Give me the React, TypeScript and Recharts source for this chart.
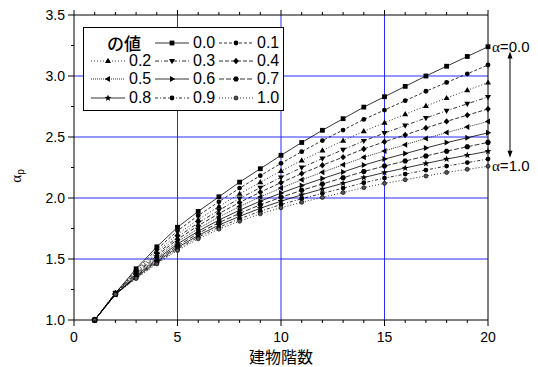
import {
  LineChart,
  Line,
  XAxis,
  YAxis,
  ReferenceLine,
  ReferenceDot,
  Legend,
} from 'recharts'

// building storeys
const floors = [1, 2, 3, 4, 5, 6, 7, 8, 9, 10, 11, 12, 13, 14, 15, 16, 17, 18, 19, 20]
const alphas = ['0.0', '0.1', '0.2', '0.3', '0.4', '0.5', '0.6', '0.7', '0.8', '0.9', '1.0']

// alpha_p, one list per alpha
const a00 = [1.0, 1.22, 1.42, 1.6, 1.76, 1.89, 2.01, 2.13, 2.24, 2.35, 2.455, 2.555, 2.65, 2.745, 2.83, 2.915, 3.0, 3.08, 3.16, 3.24]
const a01 = [1.0, 1.22, 1.408, 1.579, 1.731, 1.856, 1.969, 2.081, 2.183, 2.284, 2.38, 2.471, 2.557, 2.644, 2.721, 2.798, 2.875, 2.947, 3.018, 3.09]
const a02 = [1.0, 1.22, 1.396, 1.558, 1.703, 1.823, 1.93, 2.034, 2.129, 2.221, 2.308, 2.39, 2.469, 2.547, 2.617, 2.686, 2.754, 2.819, 2.883, 2.946]
const a03 = [1.0, 1.22, 1.386, 1.541, 1.68, 1.796, 1.899, 1.996, 2.085, 2.169, 2.249, 2.324, 2.396, 2.468, 2.532, 2.594, 2.656, 2.715, 2.772, 2.828]
const a04 = [1.0, 1.22, 1.378, 1.527, 1.661, 1.773, 1.872, 1.964, 2.048, 2.126, 2.2, 2.269, 2.335, 2.402, 2.461, 2.517, 2.574, 2.628, 2.679, 2.73]
const a05 = [1.0, 1.21, 1.37, 1.512, 1.641, 1.749, 1.844, 1.93, 2.009, 2.081, 2.149, 2.211, 2.272, 2.333, 2.386, 2.437, 2.488, 2.536, 2.582, 2.628]
const a06 = [1.0, 1.21, 1.362, 1.499, 1.623, 1.728, 1.819, 1.9, 1.974, 2.04, 2.102, 2.159, 2.214, 2.27, 2.319, 2.364, 2.41, 2.454, 2.494, 2.534]
const a07 = [1.0, 1.21, 1.356, 1.488, 1.608, 1.71, 1.798, 1.874, 1.944, 2.006, 2.063, 2.115, 2.166, 2.217, 2.262, 2.303, 2.344, 2.384, 2.42, 2.456]
const a08 = [1.0, 1.21, 1.35, 1.478, 1.594, 1.693, 1.778, 1.85, 1.916, 1.974, 2.026, 2.074, 2.121, 2.168, 2.209, 2.246, 2.283, 2.319, 2.351, 2.383]
const a09 = [1.0, 1.21, 1.345, 1.468, 1.581, 1.679, 1.761, 1.829, 1.892, 1.946, 1.994, 2.038, 2.081, 2.125, 2.163, 2.196, 2.229, 2.262, 2.29, 2.319]
const a10 = [1.0, 1.21, 1.34, 1.46, 1.57, 1.665, 1.745, 1.81, 1.87, 1.92, 1.965, 2.005, 2.045, 2.085, 2.12, 2.15, 2.18, 2.21, 2.235, 2.26]

const xTicks = [0, 1, 2, 3, 4, 5, 6, 7, 8, 9, 10, 11, 12, 13, 14, 15, 16, 17, 18, 19, 20]
const xLabelTicks = [0, 5, 10, 15, 20]
const yTicks = [1, 1.25, 1.5, 1.75, 2, 2.25, 2.5, 2.75, 3, 3.25, 3.5]
const yLabelTicks = [1, 1.5, 2, 2.5, 3, 3.5]
const gridX = [5, 10, 15]
const gridY = [1.5, 2, 2.5, 3]

const series = [a00, a01, a02, a03, a04, a05, a06, a07, a08, a09, a10]
const dashes = ['', '3 2', '1 2', '4 2 1 2', '4 2', '1 1', '', '5 2', '', '3 2 1 2', '1 2']
const shapes = ['square', 'circle', 'up', 'down', 'diamond', 'left', 'right', 'hex', 'star', 'circle', 'small']

const data = floors.map((f, i) => {
  const row: Record<string, number> = { floor: f }
  series.forEach((s, k) => {
    row[`s${k}`] = s[i]
  })
  return row
})

const SANS = '"Liberation Sans", Arial, sans-serif'
const CJK = '"Noto Sans CJK JP", "Noto Sans CJK SC", sans-serif'
const SERIF = '"Liberation Serif", "DejaVu Serif", serif'
const BLUE = '#2b2bff'

function pts(cx: number, cy: number, list: number[][]) {
  return list.map(([dx, dy]) => `${cx + dx},${cy + dy}`).join(' ')
}

function Mark({ shape, cx, cy }: { shape: string; cx: number; cy: number }) {
  if (cx == null || cy == null) return null
  const s = 2.4
  switch (shape) {
    case 'square':
      return <rect x={cx - s} y={cy - s} width={s * 2} height={s * 2} fill="#000" />
    case 'circle':
      return <circle cx={cx} cy={cy} r={s} fill="#000" />
    case 'small':
      return <circle cx={cx} cy={cy} r={2} fill="#555" stroke="#000" strokeWidth={0.7} />
    case 'up':
      return <polygon points={pts(cx, cy, [[0, -3.2], [3, 2], [-3, 2]])} fill="#000" />
    case 'down':
      return <polygon points={pts(cx, cy, [[0, 3.2], [3, -2], [-3, -2]])} fill="#000" />
    case 'left':
      return <polygon points={pts(cx, cy, [[-3.2, 0], [2, -3], [2, 3]])} fill="#000" />
    case 'right':
      return <polygon points={pts(cx, cy, [[3.2, 0], [-2, -3], [-2, 3]])} fill="#000" />
    case 'diamond':
      return <polygon points={pts(cx, cy, [[0, -3.2], [2.8, 0], [0, 3.2], [-2.8, 0]])} fill="#000" />
    case 'hex': {
      const h = [0, 1, 2, 3, 4, 5].map((i) => [2.9 * Math.cos((Math.PI / 3) * i), 2.9 * Math.sin((Math.PI / 3) * i)])
      return <polygon points={pts(cx, cy, h)} fill="#000" />
    }
    case 'star': {
      const st = [0, 1, 2, 3, 4, 5, 6, 7, 8, 9].map((i) => {
        const r = i % 2 === 0 ? 3.6 : 1.5
        const a = -Math.PI / 2 + (Math.PI / 5) * i
        return [r * Math.cos(a), r * Math.sin(a)]
      })
      return <polygon points={pts(cx, cy, st)} fill="#000" />
    }
    default:
      return null
  }
}

function BottomTick({ x, y, payload }: any) {
  const major = xLabelTicks.includes(payload.value)
  return (
    <g>
      <line x1={x} x2={x} y1={y} y2={y + (major ? 6 : 3)} stroke="#000" />
      {major && (
        <text x={x} y={y + 22} textAnchor="middle" fontSize={14} fontFamily={SANS} fill="#000">
          {payload.value}
        </text>
      )}
    </g>
  )
}

function TopTick({ x, y, payload }: any) {
  const major = xLabelTicks.includes(payload.value)
  return <line x1={x} x2={x} y1={y} y2={y - (major ? 5 : 3)} stroke="#000" />
}

function LeftTick({ x, y, payload }: any) {
  const major = yLabelTicks.includes(payload.value)
  return (
    <g>
      <line x1={x} x2={x - (major ? 6 : 3)} y1={y} y2={y} stroke="#000" />
      {major && (
        <text x={x - 9} y={y + 5} textAnchor="end" fontSize={14} fontFamily={SANS} fill="#000">
          {payload.value.toFixed(1)}
        </text>
      )}
    </g>
  )
}

function RightTick({ x, y, payload }: any) {
  const major = yLabelTicks.includes(payload.value)
  return <line x1={x} x2={x + (major ? 5 : 3)} y1={y} y2={y} stroke="#000" />
}

function YTitle() {
  return (
    <text x={21} y={176} transform="rotate(-90 21 176)" textAnchor="middle" fontSize={15} fontFamily={SERIF} fill="#000">
      α
      <tspan fontSize={10} dy={3} fontFamily={SANS}>
        p
      </tspan>
    </text>
  )
}

function EndNote({ viewBox, text }: any) {
  const vb = viewBox || { x: 0, y: 0 }
  return (
    <text x={vb.x + 4} y={vb.y + 5} fontSize={15} fontFamily={SANS} fill="#000">
      <tspan fontFamily={SERIF}>α</tspan>=
      {text}
    </text>
  )
}

function Arrow({ x1, y1, y2 }: any) {
  const ax = x1 + 22
  return (
    <g>
      <line x1={ax} x2={ax} y1={y1 + 5} y2={y2 - 5} stroke="#000" strokeWidth={1} />
      <polygon points={`${ax},${y1} ${ax - 2.5},${y1 + 7} ${ax + 2.5},${y1 + 7}`} fill="#000" />
      <polygon points={`${ax},${y2} ${ax - 2.5},${y2 - 7} ${ax + 2.5},${y2 - 7}`} fill="#000" />
    </g>
  )
}

function LegendBox() {
  return (
    <div
      style={{
        width: 201,
        height: 84,
        boxSizing: 'border-box',
        border: '1px solid #000',
        background: '#fff',
        padding: '6px 0 0 7px',
        display: 'grid',
        gridTemplateColumns: 'repeat(3, 64px)',
        gridAutoRows: '18.2px',
        alignItems: 'center',
      }}
    >
      <span style={{ fontFamily: CJK, fontSize: 17, fontWeight: 500, lineHeight: '18px', paddingLeft: 16 }}>の値</span>
      {alphas.map((a, k) => (
        <span key={a} style={{ display: 'flex', alignItems: 'center', fontFamily: SANS, fontSize: 16, lineHeight: '18px' }}>
          <svg width={34} height={12} style={{ marginRight: 4 }}>
            <line x1={0} x2={34} y1={6} y2={6} stroke="#000" strokeWidth={0.8} strokeDasharray={dashes[k]} />
            <Mark shape={shapes[k]} cx={17} cy={6} />
          </svg>
          {a}
        </span>
      ))}
    </div>
  )
}

export default function App() {
  const last = floors.length - 1
  return (
    <div style={{ position: 'absolute', left: 0, top: 0, width: 538, height: 367, background: '#fff' }}>
      <LineChart width={538} height={367} data={data} margin={{ top: 0, right: 0, bottom: 0, left: 0 }}>
        <XAxis
          dataKey="floor"
          type="number"
          domain={[0, 20]}
          ticks={xTicks}
          interval={0}
          tickSize={0}
          tickMargin={0}
          tickLine={false}
          tick={<BottomTick />}
          height={47}
          axisLine={{ stroke: '#000' }}
          label={{ value: '建物階数', position: 'insideBottom', offset: 4, fontSize: 16, fontFamily: CJK, fill: '#000' }}
        />
        <XAxis
          xAxisId="top"
          orientation="top"
          dataKey="floor"
          type="number"
          domain={[0, 20]}
          ticks={xTicks}
          interval={0}
          tickSize={0}
          tickMargin={0}
          tickLine={false}
          tick={<TopTick />}
          height={15}
          axisLine={{ stroke: '#000' }}
        />
        <YAxis
          type="number"
          domain={[1, 3.5]}
          ticks={yTicks}
          interval={0}
          tickSize={0}
          tickMargin={0}
          tickLine={false}
          tick={<LeftTick />}
          width={74}
          axisLine={{ stroke: '#000' }}
          label={<YTitle />}
        />
        <YAxis
          yAxisId="right"
          orientation="right"
          type="number"
          domain={[1, 3.5]}
          ticks={yTicks}
          interval={0}
          tickSize={0}
          tickMargin={0}
          tickLine={false}
          tick={<RightTick />}
          width={50}
          axisLine={{ stroke: '#000' }}
        />
        {gridX.map((v) => (
          <ReferenceLine key={`gx${v}`} x={v} stroke={BLUE} strokeWidth={1} />
        ))}
        {gridY.map((v) => (
          <ReferenceLine key={`gy${v}`} y={v} stroke={BLUE} strokeWidth={1} />
        ))}
        {series.map((_, k) => (
          <Line
            key={alphas[k]}
            name={alphas[k]}
            dataKey={`s${k}`}
            type="linear"
            stroke="#000"
            strokeWidth={0.8}
            strokeDasharray={dashes[k]}
            dot={(p: any) => <Mark key={`m${k}-${p.index}`} shape={shapes[k]} cx={p.cx} cy={p.cy} />}
            activeDot={false}
            isAnimationActive={false}
          />
        ))}
        <ReferenceDot
          x={20}
          y={a00[last]}
          r={0}
          fill="none"
          stroke="none"
          ifOverflow="visible"
          label={(p: any) => <EndNote {...p} text={alphas[0]} />}
        />
        <ReferenceDot
          x={20}
          y={a10[last]}
          r={0}
          fill="none"
          stroke="none"
          ifOverflow="visible"
          label={(p: any) => <EndNote {...p} text={alphas[10]} />}
        />
        <ReferenceLine
          segment={[
            { x: 20, y: a00[last] - 0.04 },
            { x: 20, y: a10[last] + 0.07 },
          ]}
          ifOverflow="visible"
          shape={(p: any) => <Arrow {...p} />}
        />
        <Legend
          layout="horizontal"
          verticalAlign="middle"
          align="center"
          wrapperStyle={{ left: 83, top: 27, width: 'auto', height: 'auto' }}
          content={() => <LegendBox />}
        />
      </LineChart>
    </div>
  )
}
